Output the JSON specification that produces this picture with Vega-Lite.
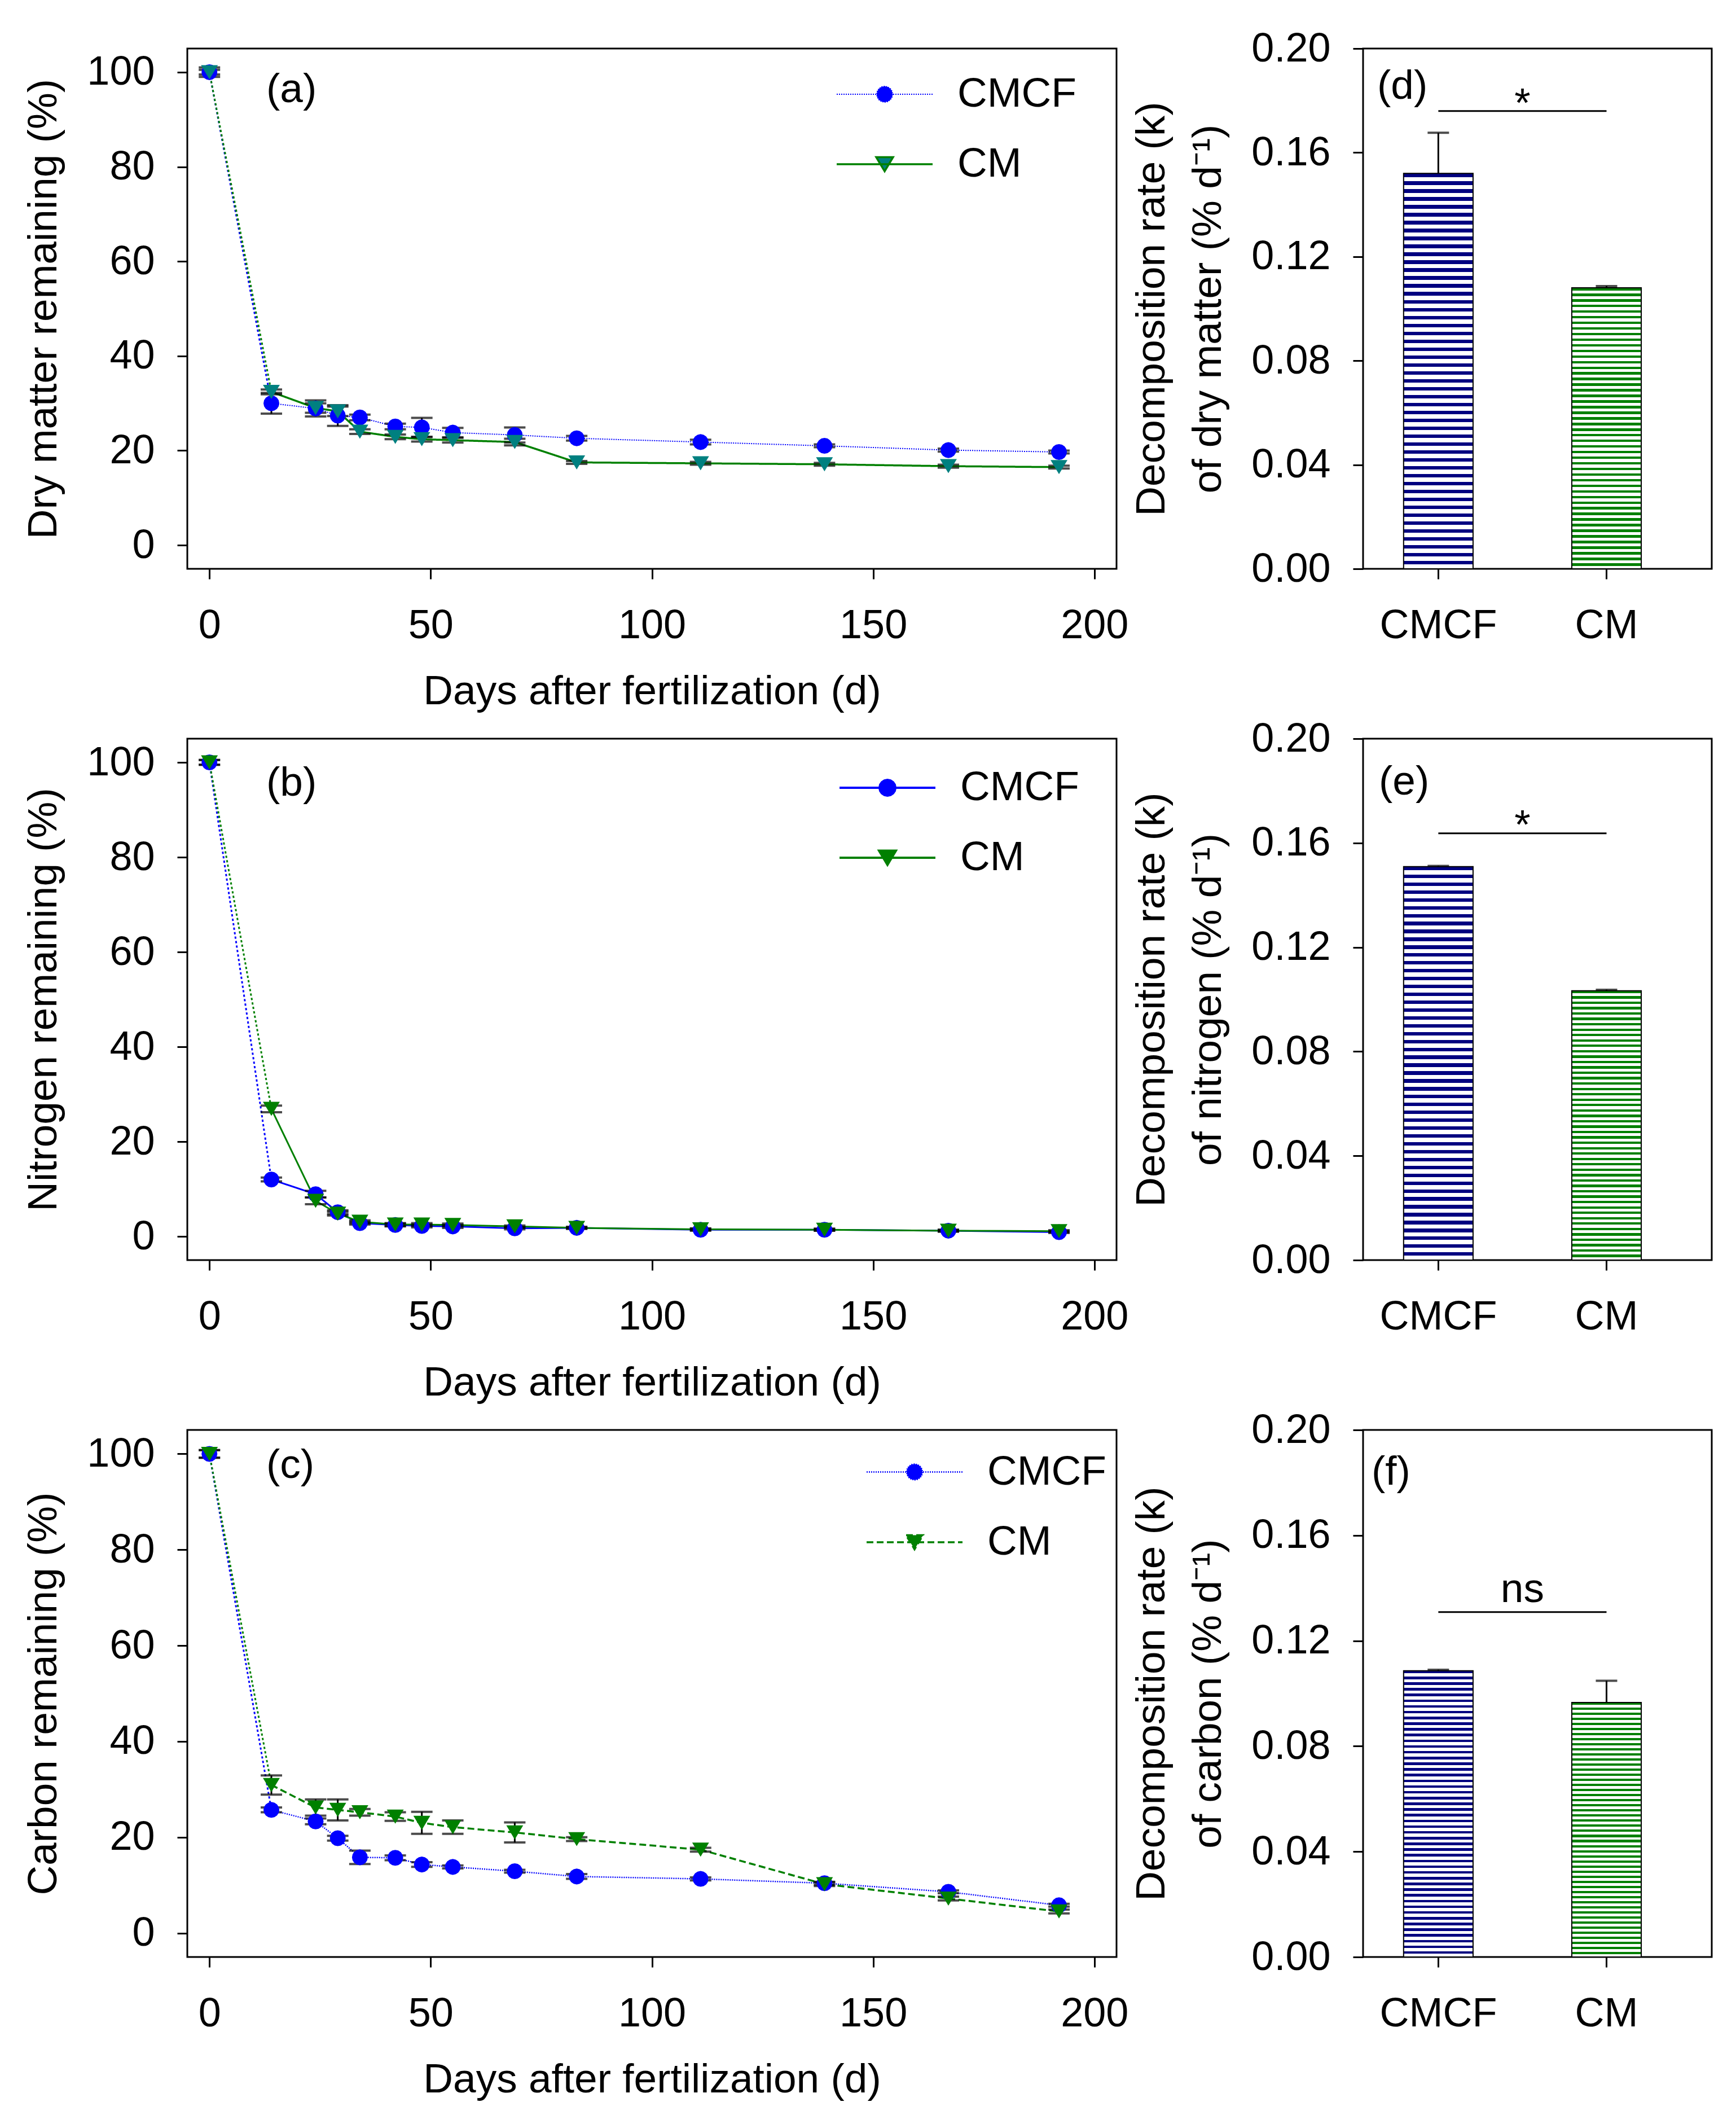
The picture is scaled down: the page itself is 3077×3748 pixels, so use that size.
{
  "$schema": "https://vega.github.io/schema/vega-lite/v6.json",
  "background": "white",
  "padding": {"left": 40, "top": 48, "right": 5, "bottom": 5},
  "params": [
    {"name": "blueGrad", "value": {"gradient": "linear", "x1": 0, "y1": 0, "x2": 0, "y2": 1, "stops": [
      {"offset":0,"color":"navy"},{"offset":0.009,"color":"navy"},{"offset":0.009,"color":"white"},{"offset":0.02,"color":"white"},
      {"offset":0.02,"color":"navy"},{"offset":0.029,"color":"navy"},{"offset":0.029,"color":"white"},{"offset":0.04,"color":"white"},
      {"offset":0.04,"color":"navy"},{"offset":0.049,"color":"navy"},{"offset":0.049,"color":"white"},{"offset":0.06,"color":"white"},
      {"offset":0.06,"color":"navy"},{"offset":0.069,"color":"navy"},{"offset":0.069,"color":"white"},{"offset":0.08,"color":"white"},
      {"offset":0.08,"color":"navy"},{"offset":0.089,"color":"navy"},{"offset":0.089,"color":"white"},{"offset":0.1,"color":"white"},
      {"offset":0.1,"color":"navy"},{"offset":0.109,"color":"navy"},{"offset":0.109,"color":"white"},{"offset":0.12,"color":"white"},
      {"offset":0.12,"color":"navy"},{"offset":0.129,"color":"navy"},{"offset":0.129,"color":"white"},{"offset":0.14,"color":"white"},
      {"offset":0.14,"color":"navy"},{"offset":0.149,"color":"navy"},{"offset":0.149,"color":"white"},{"offset":0.16,"color":"white"},
      {"offset":0.16,"color":"navy"},{"offset":0.169,"color":"navy"},{"offset":0.169,"color":"white"},{"offset":0.18,"color":"white"},
      {"offset":0.18,"color":"navy"},{"offset":0.189,"color":"navy"},{"offset":0.189,"color":"white"},{"offset":0.2,"color":"white"},
      {"offset":0.2,"color":"navy"},{"offset":0.209,"color":"navy"},{"offset":0.209,"color":"white"},{"offset":0.22,"color":"white"},
      {"offset":0.22,"color":"navy"},{"offset":0.229,"color":"navy"},{"offset":0.229,"color":"white"},{"offset":0.24,"color":"white"},
      {"offset":0.24,"color":"navy"},{"offset":0.249,"color":"navy"},{"offset":0.249,"color":"white"},{"offset":0.26,"color":"white"},
      {"offset":0.26,"color":"navy"},{"offset":0.269,"color":"navy"},{"offset":0.269,"color":"white"},{"offset":0.28,"color":"white"},
      {"offset":0.28,"color":"navy"},{"offset":0.289,"color":"navy"},{"offset":0.289,"color":"white"},{"offset":0.3,"color":"white"},
      {"offset":0.3,"color":"navy"},{"offset":0.309,"color":"navy"},{"offset":0.309,"color":"white"},{"offset":0.32,"color":"white"},
      {"offset":0.32,"color":"navy"},{"offset":0.329,"color":"navy"},{"offset":0.329,"color":"white"},{"offset":0.34,"color":"white"},
      {"offset":0.34,"color":"navy"},{"offset":0.349,"color":"navy"},{"offset":0.349,"color":"white"},{"offset":0.36,"color":"white"},
      {"offset":0.36,"color":"navy"},{"offset":0.369,"color":"navy"},{"offset":0.369,"color":"white"},{"offset":0.38,"color":"white"},
      {"offset":0.38,"color":"navy"},{"offset":0.389,"color":"navy"},{"offset":0.389,"color":"white"},{"offset":0.4,"color":"white"},
      {"offset":0.4,"color":"navy"},{"offset":0.409,"color":"navy"},{"offset":0.409,"color":"white"},{"offset":0.42,"color":"white"},
      {"offset":0.42,"color":"navy"},{"offset":0.429,"color":"navy"},{"offset":0.429,"color":"white"},{"offset":0.44,"color":"white"},
      {"offset":0.44,"color":"navy"},{"offset":0.449,"color":"navy"},{"offset":0.449,"color":"white"},{"offset":0.46,"color":"white"},
      {"offset":0.46,"color":"navy"},{"offset":0.469,"color":"navy"},{"offset":0.469,"color":"white"},{"offset":0.48,"color":"white"},
      {"offset":0.48,"color":"navy"},{"offset":0.489,"color":"navy"},{"offset":0.489,"color":"white"},{"offset":0.5,"color":"white"},
      {"offset":0.5,"color":"navy"},{"offset":0.509,"color":"navy"},{"offset":0.509,"color":"white"},{"offset":0.52,"color":"white"},
      {"offset":0.52,"color":"navy"},{"offset":0.529,"color":"navy"},{"offset":0.529,"color":"white"},{"offset":0.54,"color":"white"},
      {"offset":0.54,"color":"navy"},{"offset":0.549,"color":"navy"},{"offset":0.549,"color":"white"},{"offset":0.56,"color":"white"},
      {"offset":0.56,"color":"navy"},{"offset":0.569,"color":"navy"},{"offset":0.569,"color":"white"},{"offset":0.58,"color":"white"},
      {"offset":0.58,"color":"navy"},{"offset":0.589,"color":"navy"},{"offset":0.589,"color":"white"},{"offset":0.6,"color":"white"},
      {"offset":0.6,"color":"navy"},{"offset":0.609,"color":"navy"},{"offset":0.609,"color":"white"},{"offset":0.62,"color":"white"},
      {"offset":0.62,"color":"navy"},{"offset":0.629,"color":"navy"},{"offset":0.629,"color":"white"},{"offset":0.64,"color":"white"},
      {"offset":0.64,"color":"navy"},{"offset":0.649,"color":"navy"},{"offset":0.649,"color":"white"},{"offset":0.66,"color":"white"},
      {"offset":0.66,"color":"navy"},{"offset":0.669,"color":"navy"},{"offset":0.669,"color":"white"},{"offset":0.68,"color":"white"},
      {"offset":0.68,"color":"navy"},{"offset":0.689,"color":"navy"},{"offset":0.689,"color":"white"},{"offset":0.7,"color":"white"},
      {"offset":0.7,"color":"navy"},{"offset":0.709,"color":"navy"},{"offset":0.709,"color":"white"},{"offset":0.72,"color":"white"},
      {"offset":0.72,"color":"navy"},{"offset":0.729,"color":"navy"},{"offset":0.729,"color":"white"},{"offset":0.74,"color":"white"},
      {"offset":0.74,"color":"navy"},{"offset":0.749,"color":"navy"},{"offset":0.749,"color":"white"},{"offset":0.76,"color":"white"},
      {"offset":0.76,"color":"navy"},{"offset":0.769,"color":"navy"},{"offset":0.769,"color":"white"},{"offset":0.78,"color":"white"},
      {"offset":0.78,"color":"navy"},{"offset":0.789,"color":"navy"},{"offset":0.789,"color":"white"},{"offset":0.8,"color":"white"},
      {"offset":0.8,"color":"navy"},{"offset":0.809,"color":"navy"},{"offset":0.809,"color":"white"},{"offset":0.82,"color":"white"},
      {"offset":0.82,"color":"navy"},{"offset":0.829,"color":"navy"},{"offset":0.829,"color":"white"},{"offset":0.84,"color":"white"},
      {"offset":0.84,"color":"navy"},{"offset":0.849,"color":"navy"},{"offset":0.849,"color":"white"},{"offset":0.86,"color":"white"},
      {"offset":0.86,"color":"navy"},{"offset":0.869,"color":"navy"},{"offset":0.869,"color":"white"},{"offset":0.88,"color":"white"},
      {"offset":0.88,"color":"navy"},{"offset":0.889,"color":"navy"},{"offset":0.889,"color":"white"},{"offset":0.9,"color":"white"},
      {"offset":0.9,"color":"navy"},{"offset":0.909,"color":"navy"},{"offset":0.909,"color":"white"},{"offset":0.92,"color":"white"},
      {"offset":0.92,"color":"navy"},{"offset":0.929,"color":"navy"},{"offset":0.929,"color":"white"},{"offset":0.94,"color":"white"},
      {"offset":0.94,"color":"navy"},{"offset":0.949,"color":"navy"},{"offset":0.949,"color":"white"},{"offset":0.96,"color":"white"},
      {"offset":0.96,"color":"navy"},{"offset":0.969,"color":"navy"},{"offset":0.969,"color":"white"},{"offset":0.98,"color":"white"},
      {"offset":0.98,"color":"navy"},{"offset":0.989,"color":"navy"},{"offset":0.989,"color":"white"},{"offset":1,"color":"white"}
    ]}},
    {"name": "greenGrad", "value": {"gradient": "linear", "x1": 0, "y1": 0, "x2": 0, "y2": 1, "stops": [
      {"offset":0,"color":"green"},{"offset":0.009,"color":"green"},{"offset":0.009,"color":"white"},{"offset":0.02,"color":"white"},
      {"offset":0.02,"color":"green"},{"offset":0.029,"color":"green"},{"offset":0.029,"color":"white"},{"offset":0.04,"color":"white"},
      {"offset":0.04,"color":"green"},{"offset":0.049,"color":"green"},{"offset":0.049,"color":"white"},{"offset":0.06,"color":"white"},
      {"offset":0.06,"color":"green"},{"offset":0.069,"color":"green"},{"offset":0.069,"color":"white"},{"offset":0.08,"color":"white"},
      {"offset":0.08,"color":"green"},{"offset":0.089,"color":"green"},{"offset":0.089,"color":"white"},{"offset":0.1,"color":"white"},
      {"offset":0.1,"color":"green"},{"offset":0.109,"color":"green"},{"offset":0.109,"color":"white"},{"offset":0.12,"color":"white"},
      {"offset":0.12,"color":"green"},{"offset":0.129,"color":"green"},{"offset":0.129,"color":"white"},{"offset":0.14,"color":"white"},
      {"offset":0.14,"color":"green"},{"offset":0.149,"color":"green"},{"offset":0.149,"color":"white"},{"offset":0.16,"color":"white"},
      {"offset":0.16,"color":"green"},{"offset":0.169,"color":"green"},{"offset":0.169,"color":"white"},{"offset":0.18,"color":"white"},
      {"offset":0.18,"color":"green"},{"offset":0.189,"color":"green"},{"offset":0.189,"color":"white"},{"offset":0.2,"color":"white"},
      {"offset":0.2,"color":"green"},{"offset":0.209,"color":"green"},{"offset":0.209,"color":"white"},{"offset":0.22,"color":"white"},
      {"offset":0.22,"color":"green"},{"offset":0.229,"color":"green"},{"offset":0.229,"color":"white"},{"offset":0.24,"color":"white"},
      {"offset":0.24,"color":"green"},{"offset":0.249,"color":"green"},{"offset":0.249,"color":"white"},{"offset":0.26,"color":"white"},
      {"offset":0.26,"color":"green"},{"offset":0.269,"color":"green"},{"offset":0.269,"color":"white"},{"offset":0.28,"color":"white"},
      {"offset":0.28,"color":"green"},{"offset":0.289,"color":"green"},{"offset":0.289,"color":"white"},{"offset":0.3,"color":"white"},
      {"offset":0.3,"color":"green"},{"offset":0.309,"color":"green"},{"offset":0.309,"color":"white"},{"offset":0.32,"color":"white"},
      {"offset":0.32,"color":"green"},{"offset":0.329,"color":"green"},{"offset":0.329,"color":"white"},{"offset":0.34,"color":"white"},
      {"offset":0.34,"color":"green"},{"offset":0.349,"color":"green"},{"offset":0.349,"color":"white"},{"offset":0.36,"color":"white"},
      {"offset":0.36,"color":"green"},{"offset":0.369,"color":"green"},{"offset":0.369,"color":"white"},{"offset":0.38,"color":"white"},
      {"offset":0.38,"color":"green"},{"offset":0.389,"color":"green"},{"offset":0.389,"color":"white"},{"offset":0.4,"color":"white"},
      {"offset":0.4,"color":"green"},{"offset":0.409,"color":"green"},{"offset":0.409,"color":"white"},{"offset":0.42,"color":"white"},
      {"offset":0.42,"color":"green"},{"offset":0.429,"color":"green"},{"offset":0.429,"color":"white"},{"offset":0.44,"color":"white"},
      {"offset":0.44,"color":"green"},{"offset":0.449,"color":"green"},{"offset":0.449,"color":"white"},{"offset":0.46,"color":"white"},
      {"offset":0.46,"color":"green"},{"offset":0.469,"color":"green"},{"offset":0.469,"color":"white"},{"offset":0.48,"color":"white"},
      {"offset":0.48,"color":"green"},{"offset":0.489,"color":"green"},{"offset":0.489,"color":"white"},{"offset":0.5,"color":"white"},
      {"offset":0.5,"color":"green"},{"offset":0.509,"color":"green"},{"offset":0.509,"color":"white"},{"offset":0.52,"color":"white"},
      {"offset":0.52,"color":"green"},{"offset":0.529,"color":"green"},{"offset":0.529,"color":"white"},{"offset":0.54,"color":"white"},
      {"offset":0.54,"color":"green"},{"offset":0.549,"color":"green"},{"offset":0.549,"color":"white"},{"offset":0.56,"color":"white"},
      {"offset":0.56,"color":"green"},{"offset":0.569,"color":"green"},{"offset":0.569,"color":"white"},{"offset":0.58,"color":"white"},
      {"offset":0.58,"color":"green"},{"offset":0.589,"color":"green"},{"offset":0.589,"color":"white"},{"offset":0.6,"color":"white"},
      {"offset":0.6,"color":"green"},{"offset":0.609,"color":"green"},{"offset":0.609,"color":"white"},{"offset":0.62,"color":"white"},
      {"offset":0.62,"color":"green"},{"offset":0.629,"color":"green"},{"offset":0.629,"color":"white"},{"offset":0.64,"color":"white"},
      {"offset":0.64,"color":"green"},{"offset":0.649,"color":"green"},{"offset":0.649,"color":"white"},{"offset":0.66,"color":"white"},
      {"offset":0.66,"color":"green"},{"offset":0.669,"color":"green"},{"offset":0.669,"color":"white"},{"offset":0.68,"color":"white"},
      {"offset":0.68,"color":"green"},{"offset":0.689,"color":"green"},{"offset":0.689,"color":"white"},{"offset":0.7,"color":"white"},
      {"offset":0.7,"color":"green"},{"offset":0.709,"color":"green"},{"offset":0.709,"color":"white"},{"offset":0.72,"color":"white"},
      {"offset":0.72,"color":"green"},{"offset":0.729,"color":"green"},{"offset":0.729,"color":"white"},{"offset":0.74,"color":"white"},
      {"offset":0.74,"color":"green"},{"offset":0.749,"color":"green"},{"offset":0.749,"color":"white"},{"offset":0.76,"color":"white"},
      {"offset":0.76,"color":"green"},{"offset":0.769,"color":"green"},{"offset":0.769,"color":"white"},{"offset":0.78,"color":"white"},
      {"offset":0.78,"color":"green"},{"offset":0.789,"color":"green"},{"offset":0.789,"color":"white"},{"offset":0.8,"color":"white"},
      {"offset":0.8,"color":"green"},{"offset":0.809,"color":"green"},{"offset":0.809,"color":"white"},{"offset":0.82,"color":"white"},
      {"offset":0.82,"color":"green"},{"offset":0.829,"color":"green"},{"offset":0.829,"color":"white"},{"offset":0.84,"color":"white"},
      {"offset":0.84,"color":"green"},{"offset":0.849,"color":"green"},{"offset":0.849,"color":"white"},{"offset":0.86,"color":"white"},
      {"offset":0.86,"color":"green"},{"offset":0.869,"color":"green"},{"offset":0.869,"color":"white"},{"offset":0.88,"color":"white"},
      {"offset":0.88,"color":"green"},{"offset":0.889,"color":"green"},{"offset":0.889,"color":"white"},{"offset":0.9,"color":"white"},
      {"offset":0.9,"color":"green"},{"offset":0.909,"color":"green"},{"offset":0.909,"color":"white"},{"offset":0.92,"color":"white"},
      {"offset":0.92,"color":"green"},{"offset":0.929,"color":"green"},{"offset":0.929,"color":"white"},{"offset":0.94,"color":"white"},
      {"offset":0.94,"color":"green"},{"offset":0.949,"color":"green"},{"offset":0.949,"color":"white"},{"offset":0.96,"color":"white"},
      {"offset":0.96,"color":"green"},{"offset":0.969,"color":"green"},{"offset":0.969,"color":"white"},{"offset":0.98,"color":"white"},
      {"offset":0.98,"color":"green"},{"offset":0.989,"color":"green"},{"offset":0.989,"color":"white"},{"offset":1,"color":"white"}
    ]}}
  ],
  "datasets": {
    "dm": [
      {"trt": "CMCF", "day": 0, "val": 100, "err": 1.0},
      {"trt": "CMCF", "day": 14, "val": 30.0, "err": 2.2},
      {"trt": "CMCF", "day": 24, "val": 28.9, "err": 1.7},
      {"trt": "CMCF", "day": 29, "val": 27.4, "err": 2.2},
      {"trt": "CMCF", "day": 34, "val": 27.0, "err": 0.6},
      {"trt": "CMCF", "day": 42, "val": 25.1, "err": 0.6},
      {"trt": "CMCF", "day": 48, "val": 24.9, "err": 2.0},
      {"trt": "CMCF", "day": 55, "val": 23.8, "err": 1.0},
      {"trt": "CMCF", "day": 69, "val": 23.3, "err": 1.6},
      {"trt": "CMCF", "day": 83, "val": 22.6, "err": 0.5},
      {"trt": "CMCF", "day": 111, "val": 21.8, "err": 0.5},
      {"trt": "CMCF", "day": 139, "val": 21.0, "err": 0.3},
      {"trt": "CMCF", "day": 167, "val": 20.1, "err": 0.3},
      {"trt": "CMCF", "day": 192, "val": 19.7, "err": 0.3},
      {"trt": "CM", "day": 0, "val": 100, "err": 0.5},
      {"trt": "CM", "day": 14, "val": 32.4, "err": 0.5},
      {"trt": "CM", "day": 24, "val": 29.0, "err": 1.0},
      {"trt": "CM", "day": 29, "val": 28.3, "err": 1.0},
      {"trt": "CM", "day": 34, "val": 24.0, "err": 0.5},
      {"trt": "CM", "day": 42, "val": 22.9, "err": 0.5},
      {"trt": "CM", "day": 48, "val": 22.4, "err": 0.5},
      {"trt": "CM", "day": 55, "val": 22.2, "err": 0.5},
      {"trt": "CM", "day": 69, "val": 21.8, "err": 0.7},
      {"trt": "CM", "day": 83, "val": 17.5, "err": 0.3},
      {"trt": "CM", "day": 111, "val": 17.3, "err": 0.3},
      {"trt": "CM", "day": 139, "val": 17.1, "err": 0.3},
      {"trt": "CM", "day": 167, "val": 16.7, "err": 0.3},
      {"trt": "CM", "day": 192, "val": 16.5, "err": 0.3}
    ],
    "nitro": [
      {"trt": "CMCF", "day": 0, "val": 100, "err": 0.5},
      {"trt": "CMCF", "day": 14, "val": 12.0, "err": 0.4},
      {"trt": "CMCF", "day": 24, "val": 8.9, "err": 0.7},
      {"trt": "CMCF", "day": 29, "val": 5.1, "err": 0.4},
      {"trt": "CMCF", "day": 34, "val": 2.8, "err": 0.3},
      {"trt": "CMCF", "day": 42, "val": 2.4, "err": 0.3},
      {"trt": "CMCF", "day": 48, "val": 2.2, "err": 0.3},
      {"trt": "CMCF", "day": 55, "val": 2.1, "err": 0.3},
      {"trt": "CMCF", "day": 69, "val": 1.7, "err": 0.2},
      {"trt": "CMCF", "day": 83, "val": 1.8, "err": 0.2},
      {"trt": "CMCF", "day": 111, "val": 1.4, "err": 0.2},
      {"trt": "CMCF", "day": 139, "val": 1.4, "err": 0.2},
      {"trt": "CMCF", "day": 167, "val": 1.2, "err": 0.2},
      {"trt": "CMCF", "day": 192, "val": 0.9, "err": 0.2},
      {"trt": "CM", "day": 0, "val": 100, "err": 0.5},
      {"trt": "CM", "day": 14, "val": 26.9, "err": 0.7},
      {"trt": "CM", "day": 24, "val": 7.5, "err": 0.7},
      {"trt": "CM", "day": 29, "val": 4.8, "err": 0.4},
      {"trt": "CM", "day": 34, "val": 3.1, "err": 0.3},
      {"trt": "CM", "day": 42, "val": 2.5, "err": 0.3},
      {"trt": "CM", "day": 48, "val": 2.5, "err": 0.3},
      {"trt": "CM", "day": 55, "val": 2.4, "err": 0.3},
      {"trt": "CM", "day": 69, "val": 2.1, "err": 0.2},
      {"trt": "CM", "day": 83, "val": 1.8, "err": 0.2},
      {"trt": "CM", "day": 111, "val": 1.5, "err": 0.2},
      {"trt": "CM", "day": 139, "val": 1.4, "err": 0.2},
      {"trt": "CM", "day": 167, "val": 1.2, "err": 0.2},
      {"trt": "CM", "day": 192, "val": 1.1, "err": 0.2}
    ],
    "carbon": [
      {"trt": "CMCF", "day": 0, "val": 100, "err": 0.8},
      {"trt": "CMCF", "day": 14, "val": 25.7, "err": 0.5},
      {"trt": "CMCF", "day": 24, "val": 23.3, "err": 0.6},
      {"trt": "CMCF", "day": 29, "val": 19.8, "err": 0.5},
      {"trt": "CMCF", "day": 34, "val": 15.8, "err": 1.4},
      {"trt": "CMCF", "day": 42, "val": 15.7, "err": 0.5},
      {"trt": "CMCF", "day": 48, "val": 14.3, "err": 0.5},
      {"trt": "CMCF", "day": 55, "val": 13.8, "err": 0.3},
      {"trt": "CMCF", "day": 69, "val": 12.9, "err": 0.3},
      {"trt": "CMCF", "day": 83, "val": 11.8, "err": 0.5},
      {"trt": "CMCF", "day": 111, "val": 11.3, "err": 0.3},
      {"trt": "CMCF", "day": 139, "val": 10.4, "err": 0.3},
      {"trt": "CMCF", "day": 167, "val": 8.6, "err": 0.3},
      {"trt": "CMCF", "day": 192, "val": 5.8, "err": 0.3},
      {"trt": "CM", "day": 0, "val": 100, "err": 0.8},
      {"trt": "CM", "day": 14, "val": 30.9, "err": 2.0},
      {"trt": "CM", "day": 24, "val": 26.2, "err": 1.7},
      {"trt": "CM", "day": 29, "val": 25.7, "err": 2.2},
      {"trt": "CM", "day": 34, "val": 25.2, "err": 0.7},
      {"trt": "CM", "day": 42, "val": 24.3, "err": 0.9},
      {"trt": "CM", "day": 48, "val": 23.0, "err": 2.3},
      {"trt": "CM", "day": 55, "val": 22.1, "err": 1.4},
      {"trt": "CM", "day": 69, "val": 21.0, "err": 2.1},
      {"trt": "CM", "day": 83, "val": 19.6, "err": 0.4},
      {"trt": "CM", "day": 111, "val": 17.4, "err": 0.4},
      {"trt": "CM", "day": 139, "val": 10.2, "err": 0.4},
      {"trt": "CM", "day": 167, "val": 7.2, "err": 0.4},
      {"trt": "CM", "day": 192, "val": 4.5, "err": 0.4}
    ],
    "kdm": [
      {"trt": "CMCF", "k": 0.152, "err": 0.0156},
      {"trt": "CM", "k": 0.108, "err": 0.0007}
    ],
    "kn": [
      {"trt": "CMCF", "k": 0.1509, "err": 0.0003},
      {"trt": "CM", "k": 0.1033, "err": 0.0004}
    ],
    "kc": [
      {"trt": "CMCF", "k": 0.1086, "err": 0.0004},
      {"trt": "CM", "k": 0.0966, "err": 0.0082}
    ],
    "sigd": [{"g1": "CMCF", "g2": "CM", "ly": 0.176, "ty": 0.1738, "lab": "*"}],
    "sige": [{"g1": "CMCF", "g2": "CM", "ly": 0.1637, "ty": 0.1616, "lab": "*"}],
    "sigf": [{"g1": "CMCF", "g2": "CM", "ly": 0.1309, "ty": 0.1346, "lab": "ns"}]
  },
  "columns": 2,
  "spacing": {"row": 301, "column": 437},
  "bounds": "flush",
  "resolve": {
    "scale": {"stroke": "independent", "fill": "independent", "shape": "independent", "strokeDash": "independent", "strokeWidth": "independent"},
    "legend": {"stroke": "independent", "fill": "independent", "shape": "independent", "strokeDash": "independent", "strokeWidth": "independent"}
  },
  "concat": [
    {
      "width": 1647,
      "height": 922,
      "title": {"text": "(a)", "offset": -115, "dx": 140},
      "data": {"name": "dm"},
      "layer": [
        {
          "transform": [{"filter": "datum.day >= 14"}],
          "mark": {"type": "line"},
          "encoding": {
            "x": {"field": "day", "type": "quantitative", "title": "Days after fertilization (d)", "scale": {"domain": [-5, 205], "nice": false, "zero": false}, "axis": {"values": [0, 50, 100, 150, 200]}},
            "y": {"field": "val", "type": "quantitative", "title": "Dry matter remaining (%)", "scale": {"domain": [-5, 105], "nice": false, "zero": false}, "axis": {"values": [0, 20, 40, 60, 80, 100]}},
            "stroke": {"field": "trt", "type": "nominal", "scale": {"domain": ["CMCF", "CM"], "range": ["#0000ff", "#008000"]}, "legend": {
              "orient": "none", "legendX": 1149, "legendY": -5, "title": null, "padding": 0, "labelLimit": 0,
              "symbolSize": 28900, "symbolStrokeWidth": 4, "symbolOffset": 0,
              "labelFontSize": 73, "labelFont": "Liberation Sans", "labelColor": "black", "labelOffset": 42, "rowPadding": -87
            }},
            "strokeDash": {"field": "trt", "type": "nominal", "scale": {"domain": ["CMCF", "CM"], "range": [[2, 2], [1, 0]]}, "legend": null},
            "strokeWidth": {"field": "trt", "type": "ordinal", "scale": {"domain": ["CMCF", "CM"], "range": [2, 3.5]}, "legend": null}
          }
        },
        {
          "transform": [{"filter": "datum.day <= 14"}],
          "mark": {"type": "line", "strokeWidth": 3, "strokeDash": [4, 4]},
          "encoding": {
            "x": {"field": "day", "type": "quantitative", "title": "Days after fertilization (d)"},
            "y": {"field": "val", "type": "quantitative", "title": "Dry matter remaining (%)"},
            "stroke": {"field": "trt", "type": "nominal", "legend": {
              "orient": "none", "legendX": 1149, "legendY": -5, "title": null, "padding": 0, "labelLimit": 0,
              "symbolSize": 28900, "symbolStrokeWidth": 4, "symbolOffset": 0,
              "labelFontSize": 73, "labelFont": "Liberation Sans", "labelColor": "black", "labelOffset": 42, "rowPadding": -87
            }}
          }
        },
        {
          "mark": {"type": "errorbar", "color": "black", "ticks": {"size": 38, "thickness": 4}, "rule": {"strokeWidth": 3}},
          "encoding": {
            "x": {"field": "day", "type": "quantitative", "title": "Days after fertilization (d)"},
            "y": {"field": "val", "type": "quantitative", "title": "Dry matter remaining (%)"},
            "yError": {"field": "err"}
          }
        },
        {
          "mark": {"type": "point", "filled": true, "size": 28900, "opacity": 1, "strokeWidth": 0},
          "encoding": {
            "x": {"field": "day", "type": "quantitative", "title": "Days after fertilization (d)"},
            "y": {"field": "val", "type": "quantitative", "title": "Dry matter remaining (%)"},
            "fill": {"field": "trt", "type": "nominal", "scale": {"domain": ["CMCF", "CM"], "range": ["#0000ff", "#008080"]}, "legend": null},
            "shape": {"field": "trt", "type": "nominal", "scale": {"domain": ["CMCF", "CM"], "range": [
              "M-1,0H1M0.165,0L0.1524,0.0631L0.1167,0.1167L0.0631,0.1524L0,0.165L-0.0631,0.1524L-0.1167,0.1167L-0.1524,0.0631L-0.165,0L-0.1524,-0.0631L-0.1167,-0.1167L-0.0631,-0.1524L0,-0.165L0.0631,-0.1524L0.1167,-0.1167L0.1524,-0.0631Z",
              "M-1,0H1M-0.176,-0.147L0.176,-0.147L0,0.147Z"
            ]}, "legend": null}
          }
        }
      ]
    },
    {
      "width": 618,
      "height": 922,
      "title": {"text": "(d)", "offset": -140, "dx": 25},
      "data": {"name": "kdm"},
      "layer": [
        {
          "mark": {"type": "errorbar", "color": "black", "ticks": {"size": 38, "thickness": 4}, "rule": {"strokeWidth": 3}},
          "encoding": {
            "x": {"field": "trt", "type": "nominal", "title": null},
            "y": {"field": "k", "type": "quantitative", "title": ["Decomposition rate (k)", "of dry matter (% d⁻¹)"]},
            "yError": {"field": "err"}
          }
        },
        {
          "transform": [{"filter": "datum.trt === 'CMCF'"}],
          "mark": {"type": "bar", "fill": {"expr": "blueGrad"}, "stroke": "black", "strokeWidth": 2},
          "encoding": {
            "x": {"field": "trt", "type": "nominal", "title": null, "scale": {"domain": ["CMCF", "CM"], "paddingInner": 0.587, "paddingOuter": 0.33, "align": 0.365}},
            "y": {"field": "k", "type": "quantitative", "title": ["Decomposition rate (k)", "of dry matter (% d⁻¹)"], "scale": {"domain": [0, 0.2], "nice": false}, "axis": {"values": [0, 0.04, 0.08, 0.12, 0.16, 0.2], "format": ".2f"}}
          }
        },
        {
          "transform": [{"filter": "datum.trt === 'CM'"}],
          "mark": {"type": "bar", "fill": {"expr": "greenGrad"}, "stroke": "black", "strokeWidth": 2},
          "encoding": {
            "x": {"field": "trt", "type": "nominal", "title": null},
            "y": {"field": "k", "type": "quantitative", "title": ["Decomposition rate (k)", "of dry matter (% d⁻¹)"]}
          }
        },
        {
          "data": {"name": "sigd"},
          "mark": {"type": "rule", "color": "black", "strokeWidth": 3},
          "encoding": {
            "x": {"field": "g1", "type": "nominal", "title": null},
            "x2": {"field": "g2"},
            "y": {"field": "ly", "type": "quantitative", "title": ["Decomposition rate (k)", "of dry matter (% d⁻¹)"]}
          }
        },
        {
          "data": {"name": "sigd"},
          "mark": {"type": "text", "font": "Liberation Sans", "fontSize": 73, "color": "black", "baseline": "alphabetic", "dx": 149},
          "encoding": {
            "x": {"field": "g1", "type": "nominal", "title": null},
            "y": {"field": "ty", "type": "quantitative", "title": ["Decomposition rate (k)", "of dry matter (% d⁻¹)"]},
            "text": {"field": "lab"}
          }
        }
      ]
    },
    {
      "width": 1647,
      "height": 924,
      "title": {"text": "(b)", "offset": -116, "dx": 140},
      "data": {"name": "nitro"},
      "layer": [
        {
          "transform": [{"filter": "datum.day >= 14"}],
          "mark": {"type": "line", "strokeWidth": 3},
          "encoding": {
            "x": {"field": "day", "type": "quantitative", "title": "Days after fertilization (d)", "scale": {"domain": [-5, 205], "nice": false, "zero": false}, "axis": {"values": [0, 50, 100, 150, 200]}},
            "y": {"field": "val", "type": "quantitative", "title": "Nitrogen remaining (%)", "scale": {"domain": [-5, 105], "nice": false, "zero": false}, "axis": {"values": [0, 20, 40, 60, 80, 100]}},
            "stroke": {"field": "trt", "type": "nominal", "scale": {"domain": ["CMCF", "CM"], "range": ["#0000ff", "#008000"]}, "legend": {
              "orient": "none", "legendX": 1154, "legendY": 0, "title": null, "padding": 0, "labelLimit": 0,
              "symbolSize": 28900, "symbolStrokeWidth": 4, "symbolOffset": 0,
              "labelFontSize": 73, "labelFont": "Liberation Sans", "labelColor": "black", "labelOffset": 42, "rowPadding": -87
            }}
          }
        },
        {
          "transform": [{"filter": "datum.day <= 14"}],
          "mark": {"type": "line", "strokeWidth": 3, "strokeDash": [4, 4]},
          "encoding": {
            "x": {"field": "day", "type": "quantitative", "title": "Days after fertilization (d)"},
            "y": {"field": "val", "type": "quantitative", "title": "Nitrogen remaining (%)"},
            "stroke": {"field": "trt", "type": "nominal", "legend": {
              "orient": "none", "legendX": 1154, "legendY": 0, "title": null, "padding": 0, "labelLimit": 0,
              "symbolSize": 28900, "symbolStrokeWidth": 4, "symbolOffset": 0,
              "labelFontSize": 73, "labelFont": "Liberation Sans", "labelColor": "black", "labelOffset": 42, "rowPadding": -87
            }}
          }
        },
        {
          "mark": {"type": "errorbar", "color": "black", "ticks": {"size": 38, "thickness": 4}, "rule": {"strokeWidth": 3}},
          "encoding": {
            "x": {"field": "day", "type": "quantitative", "title": "Days after fertilization (d)"},
            "y": {"field": "val", "type": "quantitative", "title": "Nitrogen remaining (%)"},
            "yError": {"field": "err"}
          }
        },
        {
          "mark": {"type": "point", "filled": true, "size": 28900, "opacity": 1, "strokeWidth": 0},
          "encoding": {
            "x": {"field": "day", "type": "quantitative", "title": "Days after fertilization (d)"},
            "y": {"field": "val", "type": "quantitative", "title": "Nitrogen remaining (%)"},
            "fill": {"field": "trt", "type": "nominal", "scale": {"domain": ["CMCF", "CM"], "range": ["#0000ff", "#008000"]}, "legend": null},
            "shape": {"field": "trt", "type": "nominal", "scale": {"domain": ["CMCF", "CM"], "range": [
              "M-1,0H1M0.165,0L0.1524,0.0631L0.1167,0.1167L0.0631,0.1524L0,0.165L-0.0631,0.1524L-0.1167,0.1167L-0.1524,0.0631L-0.165,0L-0.1524,-0.0631L-0.1167,-0.1167L-0.0631,-0.1524L0,-0.165L0.0631,-0.1524L0.1167,-0.1167L0.1524,-0.0631Z",
              "M-1,0H1M-0.176,-0.147L0.176,-0.147L0,0.147Z"
            ]}, "legend": null}
          }
        }
      ]
    },
    {
      "width": 618,
      "height": 924,
      "title": {"text": "(e)", "offset": -150, "dx": 28},
      "data": {"name": "kn"},
      "layer": [
        {
          "mark": {"type": "errorbar", "color": "black", "ticks": {"size": 38, "thickness": 4}, "rule": {"strokeWidth": 3}},
          "encoding": {
            "x": {"field": "trt", "type": "nominal", "title": null},
            "y": {"field": "k", "type": "quantitative", "title": ["Decomposition rate (k)", "of nitrogen (% d⁻¹)"]},
            "yError": {"field": "err"}
          }
        },
        {
          "transform": [{"filter": "datum.trt === 'CMCF'"}],
          "mark": {"type": "bar", "fill": {"expr": "blueGrad"}, "stroke": "black", "strokeWidth": 2},
          "encoding": {
            "x": {"field": "trt", "type": "nominal", "title": null, "scale": {"domain": ["CMCF", "CM"], "paddingInner": 0.587, "paddingOuter": 0.33, "align": 0.365}},
            "y": {"field": "k", "type": "quantitative", "title": ["Decomposition rate (k)", "of nitrogen (% d⁻¹)"], "scale": {"domain": [0, 0.2], "nice": false}, "axis": {"values": [0, 0.04, 0.08, 0.12, 0.16, 0.2], "format": ".2f"}}
          }
        },
        {
          "transform": [{"filter": "datum.trt === 'CM'"}],
          "mark": {"type": "bar", "fill": {"expr": "greenGrad"}, "stroke": "black", "strokeWidth": 2},
          "encoding": {
            "x": {"field": "trt", "type": "nominal", "title": null},
            "y": {"field": "k", "type": "quantitative", "title": ["Decomposition rate (k)", "of nitrogen (% d⁻¹)"]}
          }
        },
        {
          "data": {"name": "sige"},
          "mark": {"type": "rule", "color": "black", "strokeWidth": 3},
          "encoding": {
            "x": {"field": "g1", "type": "nominal", "title": null},
            "x2": {"field": "g2"},
            "y": {"field": "ly", "type": "quantitative", "title": ["Decomposition rate (k)", "of nitrogen (% d⁻¹)"]}
          }
        },
        {
          "data": {"name": "sige"},
          "mark": {"type": "text", "font": "Liberation Sans", "fontSize": 73, "color": "black", "baseline": "alphabetic", "dx": 149},
          "encoding": {
            "x": {"field": "g1", "type": "nominal", "title": null},
            "y": {"field": "ty", "type": "quantitative", "title": ["Decomposition rate (k)", "of nitrogen (% d⁻¹)"]},
            "text": {"field": "lab"}
          }
        }
      ]
    },
    {
      "width": 1647,
      "height": 934,
      "title": {"text": "(c)", "offset": -112, "dx": 140},
      "data": {"name": "carbon"},
      "layer": [
        {
          "transform": [{"filter": "datum.day >= 14"}],
          "mark": {"type": "line"},
          "encoding": {
            "x": {"field": "day", "type": "quantitative", "title": "Days after fertilization (d)", "scale": {"domain": [-5, 205], "nice": false, "zero": false}, "axis": {"values": [0, 50, 100, 150, 200]}},
            "y": {"field": "val", "type": "quantitative", "title": "Carbon remaining (%)", "scale": {"domain": [-5, 105], "nice": false, "zero": false}, "axis": {"values": [0, 20, 40, 60, 80, 100]}},
            "stroke": {"field": "trt", "type": "nominal", "scale": {"domain": ["CMCF", "CM"], "range": ["#0000ff", "#008000"]}, "legend": {
              "orient": "none", "legendX": 1202, "legendY": -12, "title": null, "padding": 0, "labelLimit": 0,
              "symbolSize": 28900, "symbolStrokeWidth": 4, "symbolOffset": 0,
              "labelFontSize": 73, "labelFont": "Liberation Sans", "labelColor": "black", "labelOffset": 42, "rowPadding": -87
            }},
            "strokeDash": {"field": "trt", "type": "nominal", "scale": {"domain": ["CMCF", "CM"], "range": [[2, 2], [12, 6]]}, "legend": null},
            "strokeWidth": {"field": "trt", "type": "ordinal", "scale": {"domain": ["CMCF", "CM"], "range": [2.5, 3.5]}, "legend": null}
          }
        },
        {
          "transform": [{"filter": "datum.day <= 14"}],
          "mark": {"type": "line", "strokeWidth": 3, "strokeDash": [4, 4]},
          "encoding": {
            "x": {"field": "day", "type": "quantitative", "title": "Days after fertilization (d)"},
            "y": {"field": "val", "type": "quantitative", "title": "Carbon remaining (%)"},
            "stroke": {"field": "trt", "type": "nominal", "legend": {
              "orient": "none", "legendX": 1202, "legendY": -12, "title": null, "padding": 0, "labelLimit": 0,
              "symbolSize": 28900, "symbolStrokeWidth": 4, "symbolOffset": 0,
              "labelFontSize": 73, "labelFont": "Liberation Sans", "labelColor": "black", "labelOffset": 42, "rowPadding": -87
            }}
          }
        },
        {
          "mark": {"type": "errorbar", "color": "black", "ticks": {"size": 38, "thickness": 4}, "rule": {"strokeWidth": 3}},
          "encoding": {
            "x": {"field": "day", "type": "quantitative", "title": "Days after fertilization (d)"},
            "y": {"field": "val", "type": "quantitative", "title": "Carbon remaining (%)"},
            "yError": {"field": "err"}
          }
        },
        {
          "mark": {"type": "point", "filled": true, "size": 28900, "opacity": 1, "strokeWidth": 0},
          "encoding": {
            "x": {"field": "day", "type": "quantitative", "title": "Days after fertilization (d)"},
            "y": {"field": "val", "type": "quantitative", "title": "Carbon remaining (%)"},
            "fill": {"field": "trt", "type": "nominal", "scale": {"domain": ["CMCF", "CM"], "range": ["#0000ff", "#008000"]}, "legend": null},
            "shape": {"field": "trt", "type": "nominal", "scale": {"domain": ["CMCF", "CM"], "range": [
              "M-1,0H1M0.165,0L0.1524,0.0631L0.1167,0.1167L0.0631,0.1524L0,0.165L-0.0631,0.1524L-0.1167,0.1167L-0.1524,0.0631L-0.165,0L-0.1524,-0.0631L-0.1167,-0.1167L-0.0631,-0.1524L0,-0.165L0.0631,-0.1524L0.1167,-0.1167L0.1524,-0.0631Z",
              "M-1,0H1M-0.176,-0.147L0.176,-0.147L0,0.147Z"
            ]}, "legend": null}
          }
        }
      ]
    },
    {
      "width": 618,
      "height": 934,
      "title": {"text": "(f)", "offset": -148, "dx": 15},
      "data": {"name": "kc"},
      "layer": [
        {
          "mark": {"type": "errorbar", "color": "black", "ticks": {"size": 38, "thickness": 4}, "rule": {"strokeWidth": 3}},
          "encoding": {
            "x": {"field": "trt", "type": "nominal", "title": null},
            "y": {"field": "k", "type": "quantitative", "title": ["Decomposition rate (k)", "of carbon (% d⁻¹)"]},
            "yError": {"field": "err"}
          }
        },
        {
          "transform": [{"filter": "datum.trt === 'CMCF'"}],
          "mark": {"type": "bar", "fill": {"expr": "blueGrad"}, "stroke": "black", "strokeWidth": 2},
          "encoding": {
            "x": {"field": "trt", "type": "nominal", "title": null, "scale": {"domain": ["CMCF", "CM"], "paddingInner": 0.587, "paddingOuter": 0.33, "align": 0.365}},
            "y": {"field": "k", "type": "quantitative", "title": ["Decomposition rate (k)", "of carbon (% d⁻¹)"], "scale": {"domain": [0, 0.2], "nice": false}, "axis": {"values": [0, 0.04, 0.08, 0.12, 0.16, 0.2], "format": ".2f"}}
          }
        },
        {
          "transform": [{"filter": "datum.trt === 'CM'"}],
          "mark": {"type": "bar", "fill": {"expr": "greenGrad"}, "stroke": "black", "strokeWidth": 2},
          "encoding": {
            "x": {"field": "trt", "type": "nominal", "title": null},
            "y": {"field": "k", "type": "quantitative", "title": ["Decomposition rate (k)", "of carbon (% d⁻¹)"]}
          }
        },
        {
          "data": {"name": "sigf"},
          "mark": {"type": "rule", "color": "black", "strokeWidth": 3},
          "encoding": {
            "x": {"field": "g1", "type": "nominal", "title": null},
            "x2": {"field": "g2"},
            "y": {"field": "ly", "type": "quantitative", "title": ["Decomposition rate (k)", "of carbon (% d⁻¹)"]}
          }
        },
        {
          "data": {"name": "sigf"},
          "mark": {"type": "text", "font": "Liberation Sans", "fontSize": 73, "color": "black", "baseline": "alphabetic", "dx": 149},
          "encoding": {
            "x": {"field": "g1", "type": "nominal", "title": null},
            "y": {"field": "ty", "type": "quantitative", "title": ["Decomposition rate (k)", "of carbon (% d⁻¹)"]},
            "text": {"field": "lab"}
          }
        }
      ]
    }
  ],
  "config": {
    "font": "Liberation Sans",
    "view": {"stroke": "black", "strokeWidth": 3},
    "title": {"font": "Liberation Sans", "fontSize": 73, "fontWeight": "normal", "color": "black", "anchor": "start", "frame": "group", "baseline": "alphabetic"},
    "axis": {
      "labelFont": "Liberation Sans", "titleFont": "Liberation Sans",
      "labelFontSize": 72, "titleFontSize": 73, "titleFontWeight": "normal",
      "labelColor": "black", "titleColor": "black",
      "tickColor": "black", "tickWidth": 3, "tickSize": 18,
      "domain": false, "grid": false,
      "labelPadding": 40, "titlePadding": 39,
      "labelOverlap": false, "labelFlush": false, "labelLimit": 0
    },
    "axisX": {"labelPadding": 47, "titlePadding": 45, "labelAngle": 0},
    "axisY": {"titleLineHeight": 100}
  }
}
